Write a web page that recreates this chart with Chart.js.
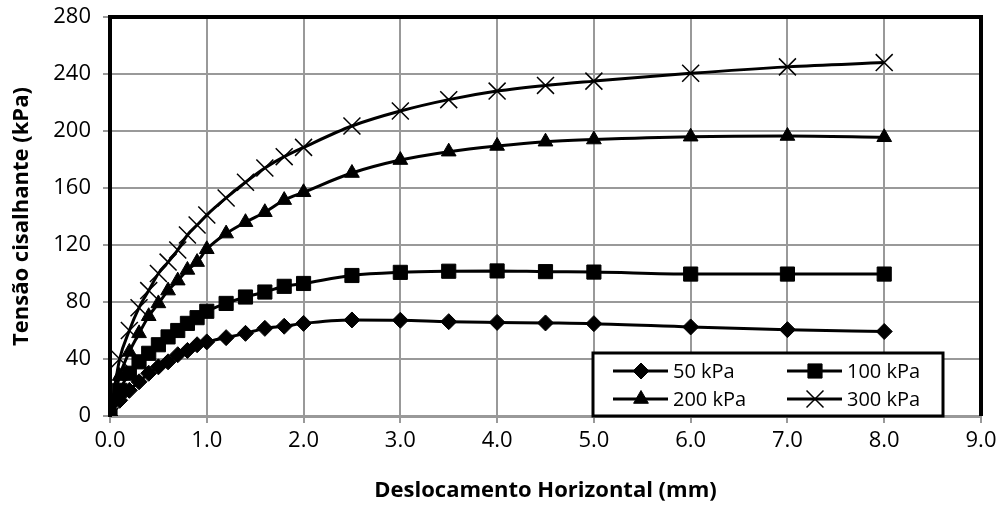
<!DOCTYPE html>
<html>
<head>
<meta charset="utf-8">
<script src="https://cdn.jsdelivr.net/npm/chart.js@4/dist/chart.umd.min.js"></script>
<style>
  html, body { margin: 0; padding: 0; background: #fff; }
</style>
</head>
<body>
<canvas id="myChart" width="1005" height="508"></canvas>
<script>
// deslocamento horizontal (mm)
var deslocamento = [0, 0.1, 0.2, 0.3, 0.4, 0.5, 0.6, 0.7, 0.8, 0.9, 1.0, 1.2, 1.4, 1.6, 1.8, 2.0, 2.5, 3.0, 3.5, 4.0, 4.5, 5.0, 6.0, 7.0, 8.0];
// tensão cisalhante (kPa) por tensão normal
var t50  = [0, 11, 18, 24, 30, 34.5, 38, 43, 46, 50, 52, 55, 58, 61.5, 63, 65, 67.4, 67.2, 66.2, 65.7, 65.3, 64.8, 62.5, 60.6, 59.3];
var t100 = [0, 18, 30, 38, 44, 50, 55.5, 60, 65, 69, 73.5, 79, 83.5, 87, 91, 93, 98.6, 100.8, 101.6, 101.8, 101.3, 101, 99.6, 99.6, 99.6];
var t200 = [0, 28, 45, 58, 70, 79, 88, 95, 102.5, 108, 117, 128, 136, 143, 151.5, 157, 170.5, 179.6, 185.5, 189.5, 192.5, 194, 196, 196.5, 195.6];
var t300 = [0, 40, 60, 76, 88, 100, 108, 116.5, 127, 134, 141, 153, 164, 174, 182, 188.5, 203.5, 214, 222, 228, 232, 235, 240.5, 245, 248];
var legendas = ['50 kPa', '100 kPa', '200 kPa', '300 kPa'];

var FONT = "'Open Sans', sans-serif";

function pts(ys) {
    return deslocamento.map(function (x, i) { return {x: x, y: ys[i]}; });
}

function serie(label, ys, style, radius) {
    return {
        label: label,
        data: pts(ys),
        borderColor: '#000',
        backgroundColor: '#000',
        borderWidth: 3,
        pointStyle: style,
        pointRadius: radius,
        pointBorderWidth: style === 'crossRot' ? 1.5 : 1,
        pointBorderColor: '#000',
        pointBackgroundColor: '#000',
        cubicInterpolationMode: 'monotone',
        fill: false
    };
}

// moldura preta + legenda dentro do gráfico
var molduraLegenda = {
    id: 'molduraLegenda',
    afterDraw: function (chart) {
        var c = chart.ctx, a = chart.chartArea;
        c.save();
        c.strokeStyle = '#000';
        c.lineWidth = 4;
        c.beginPath();
        c.moveTo(a.left, a.top);
        c.lineTo(a.right, a.top);
        c.lineTo(a.right, a.bottom);
        c.stroke();

        // legenda
        var bx = a.left + 483, by = a.bottom - 63, bw = 350, bh = 63;
        c.fillStyle = '#fff';
        c.fillRect(bx, by, bw, bh);
        c.lineWidth = 3;
        c.strokeRect(bx, by, bw, bh);
        c.font = '20px ' + FONT;
        c.textBaseline = 'middle';
        c.textAlign = 'left';
        chart.data.datasets.forEach(function (ds, i) {
            var col = i % 2, row = Math.floor(i / 2);
            var x0 = bx + 20 + col * 174, y0 = by + 18 + row * 28;
            c.strokeStyle = '#000';
            c.fillStyle = '#000';
            c.lineWidth = 3;
            c.beginPath();
            c.moveTo(x0, y0);
            c.lineTo(x0 + 55, y0);
            c.stroke();
            c.lineWidth = ds.pointBorderWidth;
            Chart.helpers.drawPoint(c, {pointStyle: ds.pointStyle, radius: ds.pointRadius, rotation: 0, borderWidth: ds.pointBorderWidth}, x0 + 28, y0);
            c.fillText(ds.label, x0 + 60, y0 + 1);
        });
        c.restore();
    }
};

var ctx = document.getElementById('myChart');
var myChart = new Chart(ctx, {
    type: 'line',
    data: {
        datasets: [
            serie(legendas[0], t50, 'rectRot', 8),
            serie(legendas[1], t100, 'rect', 10),
            serie(legendas[2], t200, 'triangle', 8.5),
            serie(legendas[3], t300, 'crossRot', 12)
        ]
    },
    options: {
        responsive: false,
        animation: false,
        devicePixelRatio: 1,
        layout: {
            padding: {left: 0, top: 17, right: 24, bottom: 0}
        },
        plugins: {
            legend: {display: false},
            tooltip: {enabled: false}
        },
        scales: {
            x: {
                type: 'linear',
                min: 0,
                max: 9,
                afterFit: function (s) { s.height = 92; s.paddingLeft = 0; s.paddingRight = 0; },
                ticks: {
                    stepSize: 1,
                    color: '#000',
                    padding: 5,
                    font: {family: FONT, size: 22},
                    callback: function (v) { return v.toFixed(1); }
                },
                grid: {color: '#999', lineWidth: 2, tickLength: 7},
                border: {color: '#999', width: 3},
                title: {
                    display: true,
                    text: 'Deslocamento Horizontal (mm)',
                    color: '#000',
                    font: {family: FONT, size: 22, weight: 'bold'},
                    padding: {top: 0, bottom: 4}
                }
            },
            y: {
                min: 0,
                max: 280,
                afterFit: function (s) { s.width = 110; s.paddingTop = 0; s.paddingBottom = 0; },
                ticks: {
                    stepSize: 40,
                    color: '#000',
                    padding: 12,
                    font: {family: FONT, size: 22}
                },
                grid: {color: '#999', lineWidth: 2, tickLength: 7},
                border: {color: '#000', width: 4},
                title: {
                    display: true,
                    text: 'Tensão cisalhante (kPa)',
                    color: '#000',
                    font: {family: FONT, size: 22, weight: 'bold'},
                    padding: {top: 9, bottom: 0}
                }
            }
        }
    },
    plugins: [molduraLegenda]
});
</script>
</body>
</html>
